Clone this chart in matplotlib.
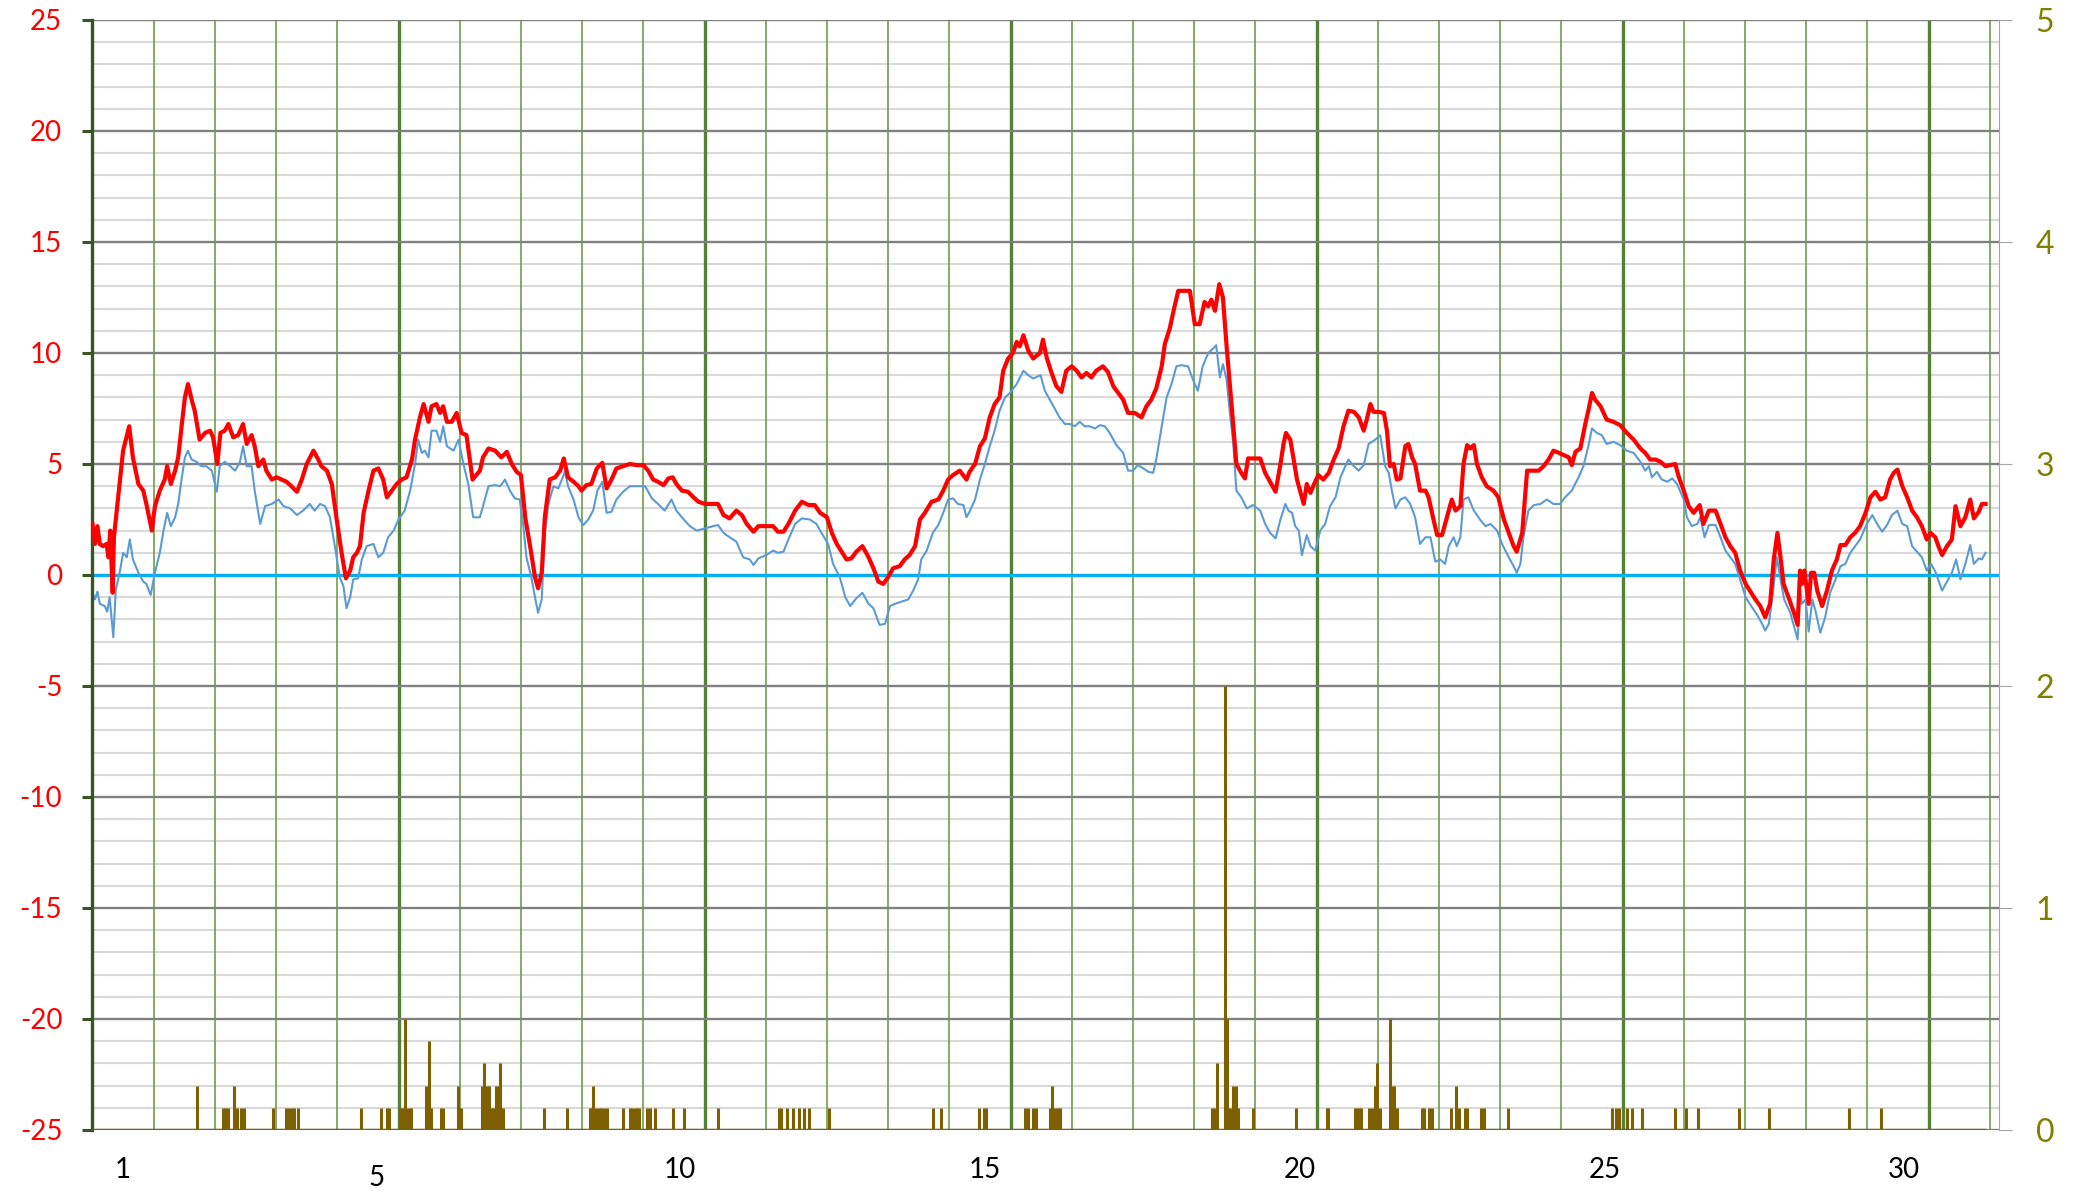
import numpy as np
import matplotlib
matplotlib.use("Agg")
import matplotlib.pyplot as plt

plt.rcParams['font.family'] = ['Lato', 'DejaVu Sans']
plt.rcParams['axes.unicode_minus'] = False

# time axis is in days since the start of the month (day 1 starts at 0)
red_t = [0.00, 0.04, 0.08, 0.12, 0.17, 0.23, 0.26, 0.29, 0.33, 0.35,
         0.42, 0.50, 0.60, 0.66, 0.75, 0.83, 0.88, 0.97, 1.02, 1.10,
         1.18, 1.22, 1.28, 1.35, 1.40, 1.46, 1.51, 1.56, 1.62, 1.67,
         1.75, 1.84, 1.92, 1.97, 2.04, 2.09, 2.16, 2.22, 2.30, 2.38,
         2.46, 2.52, 2.60, 2.65, 2.71, 2.79, 2.84, 2.93, 3.01, 3.09,
         3.17, 3.25, 3.34, 3.42, 3.50, 3.61, 3.69, 3.74, 3.83, 3.91,
         3.99, 4.07, 4.14, 4.21, 4.26, 4.32, 4.37, 4.43, 4.51, 4.59,
         4.67, 4.75, 4.81, 4.89, 4.97, 5.05, 5.13, 5.22, 5.27, 5.35,
         5.41, 5.49, 5.54, 5.62, 5.68, 5.73, 5.79, 5.87, 5.95, 6.03,
         6.11, 6.21,
         6.33, 6.38, 6.47, 6.58, 6.68, 6.77, 6.85, 6.93, 7.00, 7.07,
         7.15, 7.23, 7.28, 7.34, 7.39, 7.47, 7.56, 7.64, 7.70, 7.77,
         7.86, 7.94, 7.99, 8.07, 8.15, 8.24, 8.33, 8.40, 8.48, 8.56,
         8.67, 8.78, 8.89, 9.00, 9.08, 9.16, 9.24, 9.33, 9.41, 9.48,
         9.54, 9.63, 9.73, 9.82, 9.90, 10.01, 10.14, 10.22, 10.31, 10.41,
         10.52, 10.61, 10.69, 10.80, 10.88, 11.01, 11.12, 11.20, 11.29, 11.37,
         11.48, 11.59, 11.70, 11.80, 11.89, 12.00, 12.08, 12.16, 12.24, 12.32,
         12.40, 12.48, 12.58, 12.68, 12.76, 12.84,
         12.92, 13.00, 13.08, 13.19, 13.27, 13.35, 13.44, 13.52, 13.60, 13.71,
         13.82, 13.90, 13.98, 14.06, 14.17, 14.28, 14.33, 14.42, 14.50, 14.58,
         14.66, 14.74, 14.82, 14.88, 14.96, 15.04, 15.10, 15.15, 15.21, 15.29,
         15.37, 15.48, 15.53, 15.59, 15.67, 15.75, 15.83, 15.91, 16.00, 16.08,
         16.16, 16.24, 16.32, 16.40, 16.51, 16.59, 16.68, 16.76, 16.84, 16.92,
         17.03, 17.14, 17.22, 17.30, 17.38, 17.47, 17.52, 17.60, 17.68, 17.74,
         17.85, 17.93, 18.01, 18.09, 18.17, 18.23, 18.28, 18.34, 18.41, 18.47,
         18.53, 18.61, 18.69, 18.77, 18.83, 18.88, 18.99,
         19.08, 19.16, 19.24, 19.33, 19.41, 19.46, 19.50, 19.57, 19.62, 19.68,
         19.73, 19.79, 19.84, 19.90, 19.96, 20.03, 20.11, 20.20, 20.28, 20.36,
         20.44, 20.52, 20.61, 20.69, 20.77, 20.82, 20.88, 20.93, 21.01, 21.10,
         21.15, 21.20, 21.26, 21.31, 21.37, 21.45, 21.50, 21.56, 21.61, 21.69,
         21.78, 21.83, 21.91, 21.97, 22.05, 22.13, 22.21, 22.27, 22.35, 22.40,
         22.46, 22.51, 22.57, 22.62, 22.70, 22.78, 22.89, 22.97, 23.06, 23.14,
         23.22, 23.27, 23.36, 23.44, 23.52, 23.63, 23.71, 23.79, 23.87, 23.96,
         24.04, 24.12, 24.17, 24.23, 24.31, 24.39, 24.44, 24.50, 24.55, 24.64,
         24.74, 24.85, 24.96, 25.07, 25.18,
         25.29, 25.37, 25.45, 25.54, 25.62, 25.70, 25.78, 25.86, 25.92, 26.00,
         26.08, 26.16, 26.26, 26.32, 26.41, 26.52, 26.60, 26.68, 26.76, 26.84,
         26.92, 27.01, 27.09, 27.17, 27.25, 27.33, 27.41, 27.47, 27.53, 27.58,
         27.63, 27.71, 27.80, 27.86, 27.90, 27.93, 27.97, 28.04, 28.08, 28.13,
         28.18, 28.26, 28.34, 28.42, 28.50, 28.56, 28.64, 28.72, 28.80, 28.88,
         28.97, 29.05, 29.13, 29.21, 29.29, 29.37, 29.43, 29.49, 29.57, 29.65,
         29.73, 29.81, 29.89, 29.97, 30.03, 30.11, 30.16, 30.22, 30.30, 30.38,
         30.44, 30.52, 30.60, 30.68, 30.74, 30.82, 30.87, 30.93]
red_v = [2.3, 1.4, 2.2, 1.4, 1.3, 1.4, 0.8, 2.0, -0.8, 1.7,
         3.5, 5.6, 6.7, 5.3, 4.1, 3.8, 3.2, 2.0, 3.1, 3.8,
         4.3, 4.9, 4.1, 4.7, 5.3, 6.8, 8.0, 8.6, 7.9, 7.4,
         6.1, 6.4, 6.5, 6.2, 5.0, 6.4, 6.5, 6.8, 6.2, 6.3,
         6.8, 5.9, 6.3, 5.8, 4.9, 5.2, 4.7, 4.3, 4.4, 4.3,
         4.2, 4.0, 3.75, 4.3, 5.0, 5.6, 5.2, 4.9, 4.7, 4.1,
         2.5, 1.0, -0.15, 0.2, 0.8, 1.0, 1.3, 2.8, 3.8, 4.7,
         4.8, 4.3, 3.5, 3.8, 4.1, 4.3, 4.4, 5.2, 6.1, 7.1,
         7.7, 6.9, 7.6, 7.7, 7.3, 7.6, 6.9, 6.9, 7.3, 6.4,
         6.3, 4.3,
         4.7, 5.3, 5.7, 5.6, 5.3, 5.55, 5.0, 4.65, 4.5, 2.6,
         1.3, -0.1, -0.6, 0.1, 2.6, 4.3, 4.4, 4.7, 5.25, 4.4,
         4.2, 4.0, 3.8, 4.05, 4.1, 4.8, 5.05, 3.9, 4.3, 4.8,
         4.9, 5.0, 4.95, 4.95, 4.7, 4.3, 4.2, 4.05, 4.35, 4.4,
         4.1, 3.8, 3.75, 3.5, 3.3, 3.2, 3.2, 3.2, 2.7, 2.55,
         2.9, 2.7, 2.3, 1.95, 2.2, 2.2, 2.2, 1.95, 1.95, 2.3,
         2.9, 3.3, 3.15, 3.15, 2.8, 2.6, 1.9, 1.4, 1.05, 0.7,
         0.75, 1.05, 1.3, 0.8, 0.3, -0.3,
         -0.4, -0.1, 0.3, 0.4, 0.7, 0.9, 1.3, 2.5, 2.8, 3.3,
         3.4, 3.8, 4.3, 4.5, 4.7, 4.3, 4.65, 5.0, 5.8, 6.15,
         7.1, 7.7, 8.0, 9.2, 9.75, 10.0, 10.5, 10.3, 10.8, 10.1,
         9.75, 10.0, 10.6, 9.8, 9.1, 8.5, 8.25, 9.2, 9.4, 9.2,
         8.9, 9.1, 8.9, 9.2, 9.4, 9.15, 8.5, 8.2, 7.9, 7.3,
         7.3, 7.1, 7.6, 7.9, 8.4, 9.4, 10.4, 11.1, 12.1, 12.8,
         12.8, 12.8, 11.3, 11.3, 12.3, 12.1, 12.4, 11.9, 13.1, 12.5,
         10.3, 7.7, 5.0, 4.6, 4.35, 5.25, 5.25,
         5.25, 4.6, 4.2, 3.75, 5.0, 5.9, 6.4, 6.1, 5.3, 4.3,
         3.8, 3.2, 4.1, 3.7, 4.1, 4.5, 4.3, 4.6, 5.2, 5.7,
         6.7, 7.4, 7.35, 7.1, 6.5, 7.0, 7.7, 7.35, 7.35, 7.3,
         6.5, 4.9, 5.0, 4.3, 4.35, 5.8, 5.9, 5.3, 5.0, 3.8,
         3.8, 3.5, 2.5, 1.8, 1.8, 2.6, 3.4, 2.9, 3.1, 5.0,
         5.85, 5.7, 5.85, 5.0, 4.4, 4.0, 3.8, 3.5, 2.5, 1.9,
         1.3, 1.05, 1.9, 4.7, 4.7, 4.7, 4.9, 5.2, 5.6, 5.5,
         5.4, 5.3, 4.95, 5.55, 5.7, 6.8, 7.4, 8.2, 7.9, 7.6,
         7.0, 6.9, 6.75, 6.4, 6.1,
         5.7, 5.5, 5.2, 5.2, 5.1, 4.9, 4.95, 5.0, 4.4, 3.8,
         3.1, 2.8, 3.15, 2.3, 2.9, 2.9, 2.3, 1.7, 1.3, 1.0,
         0.2, -0.4, -0.75, -1.1, -1.4, -1.9, -1.3, 0.7, 1.9, 0.8,
         -0.4, -1.0, -1.7, -2.25, 0.2, -0.4, 0.2, -1.3, 0.1, 0.1,
         -0.7, -1.4, -0.7, 0.2, 0.7, 1.35, 1.35, 1.7, 1.9, 2.2,
         2.8, 3.5, 3.75, 3.4, 3.5, 4.3, 4.6, 4.75, 4.0, 3.5,
         2.9, 2.6, 2.2, 1.6, 1.9, 1.7, 1.3, 0.9, 1.3, 1.6,
         3.1, 2.2, 2.6, 3.4, 2.55, 2.85, 3.2, 3.2]

blue_t = [0.00, 0.04, 0.08, 0.12, 0.20, 0.24, 0.28, 0.34, 0.38, 0.45,
          0.50, 0.56, 0.61, 0.66, 0.75, 0.83, 0.88, 0.95, 1.02, 1.10,
          1.16, 1.22, 1.28, 1.35, 1.40, 1.46, 1.51, 1.56, 1.62, 1.70,
          1.78, 1.86, 1.95, 2.03, 2.08, 2.16, 2.25, 2.33, 2.41, 2.46,
          2.52, 2.60, 2.65, 2.74, 2.82, 2.93, 3.04, 3.12, 3.23, 3.34,
          3.44, 3.55, 3.63, 3.72, 3.80, 3.88, 3.96, 4.04, 4.10, 4.15,
          4.21, 4.26, 4.34, 4.40, 4.48, 4.59, 4.67, 4.75, 4.83, 4.92,
          5.00, 5.10, 5.19, 5.27, 5.32, 5.38, 5.43, 5.49, 5.54, 5.62,
          5.68, 5.73, 5.79, 5.90, 5.98, 6.06, 6.14, 6.22,
          6.33, 6.38, 6.47, 6.58, 6.66, 6.74, 6.82, 6.90, 6.98, 7.04,
          7.09, 7.17, 7.23, 7.28, 7.34, 7.39, 7.45, 7.53, 7.61, 7.72,
          7.77, 7.86, 7.94, 8.02, 8.10, 8.18, 8.25, 8.33, 8.40, 8.48,
          8.56, 8.67, 8.78, 8.89, 9.03, 9.14, 9.24, 9.35, 9.46, 9.54,
          9.63, 9.76, 9.87, 10.01, 10.14, 10.22, 10.31, 10.41, 10.52, 10.63,
          10.74, 10.80, 10.88, 11.01, 11.12, 11.20, 11.29, 11.37, 11.48, 11.59,
          11.72, 11.83, 11.91, 12.02, 12.10, 12.21, 12.30, 12.38, 12.48, 12.58,
          12.68, 12.76,
          12.86, 12.95, 13.03, 13.11, 13.22, 13.33, 13.41, 13.49, 13.54, 13.63,
          13.73, 13.82, 13.90, 13.98, 14.06, 14.14, 14.23, 14.28, 14.33, 14.42,
          14.50, 14.58, 14.66, 14.74, 14.82, 14.91, 14.99, 15.10, 15.21, 15.29,
          15.37, 15.49, 15.56, 15.64, 15.72, 15.80, 15.89, 15.97, 16.05, 16.13,
          16.21, 16.29, 16.38, 16.46, 16.54, 16.62, 16.73, 16.84, 16.92, 17.00,
          17.08, 17.17, 17.25, 17.33, 17.38, 17.47, 17.55, 17.63, 17.71, 17.79,
          17.90, 17.98, 18.06, 18.14, 18.23, 18.31, 18.36, 18.42, 18.47, 18.53,
          18.58, 18.64, 18.69, 18.77, 18.86, 18.96,
          19.08, 19.16, 19.24, 19.33, 19.41, 19.49, 19.54, 19.60, 19.65, 19.71,
          19.76, 19.84, 19.90, 19.98, 20.06, 20.14, 20.22, 20.31, 20.39, 20.47,
          20.52, 20.61, 20.69, 20.77, 20.85, 20.96, 21.04, 21.12, 21.18, 21.23,
          21.29, 21.37, 21.45, 21.53, 21.61, 21.69, 21.78, 21.86, 21.94, 22.02,
          22.10, 22.16, 22.24, 22.29, 22.35, 22.40, 22.48, 22.57, 22.67, 22.76,
          22.84, 22.95, 23.03, 23.14, 23.22, 23.27, 23.33, 23.38, 23.46, 23.55,
          23.66, 23.76, 23.87, 23.98, 24.06, 24.17, 24.28, 24.36, 24.44, 24.50,
          24.58, 24.66, 24.74, 24.85, 24.96, 25.07, 25.18,
          25.29, 25.37, 25.43, 25.48, 25.56, 25.64, 25.73, 25.81, 25.89, 26.00,
          26.05, 26.13, 26.22, 26.27, 26.34, 26.41, 26.52, 26.60, 26.68, 26.76,
          26.84, 26.92, 27.01, 27.09, 27.20, 27.28, 27.33, 27.39, 27.46, 27.52,
          27.58, 27.64, 27.74, 27.82, 27.86, 27.90, 27.93, 27.99, 28.04, 28.10,
          28.15, 28.23, 28.31, 28.39, 28.48, 28.56, 28.64, 28.72, 28.80, 28.88,
          28.99, 29.08, 29.16, 29.24, 29.32, 29.40, 29.49, 29.57, 29.65, 29.73,
          29.81, 29.89, 29.97, 30.04, 30.11, 30.22, 30.30, 30.38, 30.45, 30.52,
          30.60, 30.68, 30.74, 30.82, 30.87, 30.93]
blue_v = [-0.8, -1.1, -0.75, -1.3, -1.4, -1.65, -1.0, -2.8, -0.7, 0.2,
          1.0, 0.8, 1.6, 0.7, 0.1, -0.3, -0.4, -0.9, 0.1, 1.0,
          2.0, 2.8, 2.2, 2.6, 3.2, 4.4, 5.3, 5.6, 5.2, 5.1,
          4.9, 4.9, 4.7, 3.75, 4.9, 5.1, 4.9, 4.7, 5.1, 5.8,
          4.9, 4.9, 3.8, 2.3, 3.1, 3.2, 3.4, 3.1, 3.0, 2.7,
          2.9, 3.2, 2.9, 3.2, 3.1, 2.6, 1.3, -0.1, -0.5, -1.5,
          -1.0, -0.2, -0.15, 0.7, 1.3, 1.4, 0.8, 1.0, 1.7, 2.0,
          2.5, 2.9, 3.8, 5.0, 6.1, 5.5, 5.6, 5.3, 6.5, 6.5,
          6.0, 6.7, 5.8, 5.6, 6.1, 5.0, 4.1, 2.6,
          2.6, 3.1, 4.0, 4.05, 4.0, 4.3, 3.8, 3.45, 3.4, 2.2,
          0.8, -0.1, -1.0, -1.7, -1.1, 1.9, 3.2, 4.0, 3.9, 4.65,
          4.0, 3.4, 2.6, 2.25, 2.5, 2.9, 3.8, 4.2, 2.8, 2.85,
          3.4, 3.75, 4.0, 4.0, 4.0, 3.45, 3.2, 2.9, 3.4, 2.9,
          2.6, 2.2, 2.0, 2.1, 2.2, 2.25, 1.9, 1.7, 1.5, 0.8,
          0.7, 0.45, 0.75, 0.9, 1.1, 1.0, 1.05, 1.6, 2.3, 2.55,
          2.5, 2.3, 1.9, 1.4, 0.5, -0.1, -1.0, -1.4, -1.05, -0.8,
          -1.3, -1.5,
          -2.25, -2.2, -1.4, -1.3, -1.2, -1.1, -0.7, -0.2, 0.7, 1.1,
          1.9, 2.25, 2.8, 3.4, 3.45, 3.2, 3.15, 2.6, 2.85, 3.4,
          4.3, 5.0, 5.8, 6.5, 7.4, 8.0, 8.2, 8.6, 9.2, 9.0,
          8.85, 9.0, 8.3, 7.9, 7.5, 7.1, 6.8, 6.8, 6.7, 6.9,
          6.7, 6.7, 6.6, 6.75, 6.7, 6.4, 5.85, 5.5, 4.7, 4.7,
          4.95, 4.8, 4.65, 4.6, 5.2, 6.7, 8.0, 8.6, 9.4, 9.45,
          9.4, 8.8, 8.3, 9.4, 10.0, 10.2, 10.35, 8.9, 9.5, 8.8,
          7.4, 5.9, 3.8, 3.5, 3.0, 3.15,
          2.9, 2.3, 1.9, 1.65, 2.5, 3.2, 2.9, 2.8, 2.2, 2.0,
          0.9, 1.8, 1.3, 1.1, 2.0, 2.3, 3.1, 3.5, 4.4, 4.9,
          5.2, 4.9, 4.7, 4.95, 5.9, 6.1, 6.3, 4.9, 4.6, 3.8,
          3.0, 3.4, 3.5, 3.2, 2.6, 1.4, 1.7, 1.7, 0.6, 0.7,
          0.5, 1.3, 1.7, 1.3, 1.7, 3.4, 3.5, 2.9, 2.5, 2.2,
          2.3, 2.0, 1.4, 0.8, 0.4, 0.1, 0.5, 1.7, 2.9, 3.15,
          3.2, 3.4, 3.2, 3.2, 3.5, 3.8, 4.4, 4.9, 5.8, 6.6,
          6.4, 6.3, 5.9, 6.0, 5.85, 5.6, 5.5,
          5.1, 4.7, 4.9, 4.4, 4.65, 4.3, 4.2, 4.35, 4.1, 3.4,
          2.6, 2.2, 2.3, 2.6, 1.7, 2.25, 2.25, 1.7, 1.1, 0.8,
          0.5, -0.2, -1.0, -1.35, -1.8, -2.2, -2.5, -2.2, -0.7, 0.8,
          -0.2, -1.1, -1.7, -2.5, -2.9, -0.7, -1.3, -1.1, -2.55, -1.1,
          -1.6, -2.6, -1.9, -0.8, -0.2, 0.4, 0.5, 1.0, 1.3, 1.6,
          2.3, 2.7, 2.3, 1.95, 2.25, 2.7, 2.9, 2.3, 2.2, 1.3,
          1.05, 0.8, 0.2, 0.5, 0.15, -0.7, -0.3, 0.1, 0.7, -0.2,
          0.5, 1.35, 0.5, 0.75, 0.7, 1.0]

# rainfall events (right axis)
rain_t = [1.71, 2.14, 2.17, 2.21, 2.31, 2.36, 2.42, 2.47, 2.95,
          3.16, 3.21, 3.26, 3.29, 3.35, 4.38, 4.71, 4.82, 4.85,
          5.03, 5.05, 5.09, 5.11, 5.14, 5.18, 5.21, 5.45, 5.49, 5.53,
          5.69, 5.72, 5.98, 6.02,
          6.37, 6.39, 6.44, 6.48, 6.52, 6.54, 6.59, 6.63, 6.65, 6.68, 6.71,
          7.38, 7.75, 8.13, 8.15, 8.18, 8.22, 8.27, 8.31, 8.35, 8.40,
          8.67, 8.78, 8.82, 8.86, 8.89, 8.93, 9.06, 9.11, 9.19, 9.49, 9.66,
          10.22, 11.21, 11.25, 11.34, 11.45, 11.55, 11.62, 11.71, 12.03,
          13.74, 13.87, 14.49, 14.56, 14.60, 15.23, 15.29, 15.36, 15.42,
          15.64, 15.68, 15.72, 15.77, 15.81,
          18.29, 18.33, 18.37, 18.51, 18.54, 18.59, 18.63, 18.69, 18.72,
          18.96, 19.66, 20.17, 20.19, 20.63, 20.66, 20.70, 20.73, 20.85, 20.90,
          20.96, 20.98, 21.03, 21.20, 21.25, 21.27, 21.31,
          21.72, 21.75, 21.83, 21.88, 22.20, 22.27, 22.33, 22.42, 22.46,
          22.68, 22.74, 23.12, 24.82, 24.89, 24.94, 25.07, 25.15, 25.32,
          25.86, 26.04, 26.24, 26.91, 27.40, 28.70, 29.22]
rain_v = [0.2, 0.1, 0.1, 0.1, 0.2, 0.1, 0.1, 0.1, 0.1,
          0.1, 0.1, 0.1, 0.1, 0.1, 0.1, 0.1, 0.1, 0.1,
          0.1, 0.1, 0.1, 0.5, 0.1, 0.1, 0.1, 0.2, 0.4, 0.1,
          0.1, 0.1, 0.2, 0.1,
          0.2, 0.3, 0.2, 0.2, 0.1, 0.1, 0.2, 0.2, 0.3, 0.1, 0.1,
          0.1, 0.1, 0.1, 0.1, 0.2, 0.1, 0.1, 0.1, 0.1, 0.1,
          0.1, 0.1, 0.1, 0.1, 0.1, 0.1, 0.1, 0.1, 0.1, 0.1, 0.1,
          0.1, 0.1, 0.1, 0.1, 0.1, 0.1, 0.1, 0.1, 0.1,
          0.1, 0.1, 0.1, 0.1, 0.1, 0.1, 0.1, 0.1, 0.1,
          0.1, 0.2, 0.1, 0.1, 0.1,
          0.1, 0.1, 0.3, 2.0, 0.5, 0.1, 0.2, 0.2, 0.1,
          0.1, 0.1, 0.1, 0.1, 0.1, 0.1, 0.1, 0.1, 0.1, 0.1,
          0.2, 0.3, 0.1, 0.5, 0.2, 0.2, 0.1,
          0.1, 0.1, 0.1, 0.1, 0.1, 0.2, 0.1, 0.1, 0.1,
          0.1, 0.1, 0.1, 0.1, 0.1, 0.1, 0.1, 0.1, 0.1,
          0.1, 0.1, 0.1, 0.1, 0.1, 0.1, 0.1]

day_labels = ['1', '5', '10', '15', '20', '25', '30']
day_label_x = [0.50, 4.64, 9.59, 14.58, 19.72, 24.71, 29.59]
day_label_y = [-0.036, -0.043, -0.036, -0.036, -0.036, -0.036, -0.036]

fig = plt.figure(figsize=(20.73, 11.93), dpi=100)
ax = fig.add_axes([0.04462, 0.05281, 0.91968, 0.93043])
ax.set_xlim(0, 31.15)
ax.set_ylim(-25, 25)

# grid: light grey every unit, green line per day (heavier every 5 days),
# darker grey every 5 units on top
for v in range(-25, 26):
    if v % 5:
        ax.axhline(v, color='#D9D9D9', lw=1.5, zorder=0.4)
for d in range(0, 32):
    if d % 5:
        ax.axvline(d, color='#6E9E4C', lw=1.2, zorder=0.5)
    elif d > 0:
        ax.axvline(d, color='#548235', lw=2.4, zorder=0.5)
for v in range(-25, 26, 5):
    ax.axhline(v, color='#808080', lw=1.7, zorder=0.6)

ax.set_xticks([])
ax.set_yticks(range(-25, 26, 5))
ax.set_yticklabels([str(v) for v in range(-25, 26, 5)])
ax.tick_params(axis='y', length=7.2, width=2.2, color='#375623',
               labelsize=20, labelcolor='#FF0000', pad=14.5)

for side in ['top', 'right', 'bottom']:
    ax.spines[side].set_visible(False)
ax.spines['left'].set_color('#375623')
ax.spines['left'].set_linewidth(2.4)

ax.axhline(0, color='#00B0F0', lw=2.2, zorder=1.5)
ax.plot(blue_t, blue_v, color='#5B9BD5', lw=1.5, zorder=2)
ax.plot(red_t, red_v, color='#FF0000', lw=3.0, zorder=3)

for lab, x, y in zip(day_labels, day_label_x, day_label_y):
    ax.text(x, y, lab, transform=ax.get_xaxis_transform(), ha='center',
            va='center', fontsize=20, color='black')

# rainfall on the secondary axis
ax2 = ax.twinx()
ax2.set_ylim(0, 5)
ax2.set_yticks(range(0, 6))
ax2.set_yticklabels([str(v) for v in range(0, 6)])
ax2.tick_params(axis='y', length=9.4, width=0.8, color='#A6A6A6',
                labelsize=23, labelcolor='#808000', pad=17)
for side in ['top', 'left', 'bottom']:
    ax2.spines[side].set_visible(False)
ax2.spines['right'].set_color('#A6A6A6')
ax2.spines['right'].set_linewidth(0.8)

ax2.plot([0, red_t[-1]], [0, 0], color='#7F6000', lw=2.4, solid_capstyle='butt')
ax2.vlines(rain_t, 0, rain_v, color='#7F6000', lw=2.2)

fig.savefig('out.png', dpi=100)
